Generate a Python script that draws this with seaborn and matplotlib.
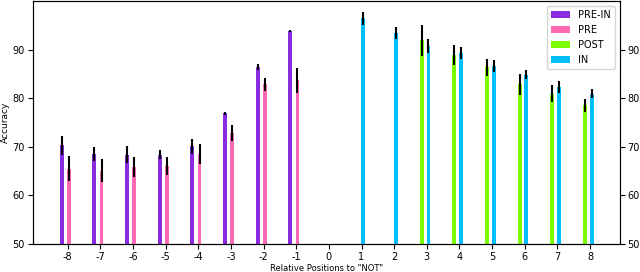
import numpy as np
import pandas as pd
import matplotlib
matplotlib.use("Agg")
import matplotlib.pyplot as plt
import seaborn as sns
from matplotlib.patches import Patch

neg_pos = [-8, -7, -6, -5, -4, -3, -2, -1]
pos_pos = [1, 2, 3, 4, 5, 6, 7, 8]
post_pos = [3, 4, 5, 6, 7, 8]

pre_in = [70.3, 68.6, 68.4, 68.4, 70.1, 76.9, 86.4, 93.9]
pre_in_err = [1.9, 1.4, 1.8, 0.9, 1.6, 0.4, 0.6, 0.3]
pre = [65.5, 65.1, 65.9, 66.1, 68.6, 72.9, 82.9, 83.7]
pre_err = [2.6, 2.4, 2.0, 1.8, 2.1, 1.7, 1.4, 2.6]
post = [92.0, 88.9, 86.4, 82.9, 81.0, 78.6]
post_err = [3.2, 2.1, 1.7, 2.1, 1.8, 1.3]
inn = [96.5, 93.5, 90.8, 89.3, 86.7, 84.9, 82.4, 81.0]
inn_err = [1.4, 1.3, 1.5, 1.2, 1.3, 1.0, 1.2, 1.0]

xticks = list(range(-8, 9))
colors = {"PRE-IN": "#8a2be2", "PRE": "#ff69b4", "POST": "#7cfc00", "IN": "#00bfff"}

series = [
    ("PRE-IN", neg_pos, pre_in, pre_in_err, -0.18),
    ("PRE", neg_pos, pre, pre_err, 0.04),
    ("POST", post_pos, post, post_err, -0.16),
    ("IN", pos_pos, inn, inn_err, 0.05),
]

fig = plt.figure(figsize=(6.4, 2.72), dpi=100)
ax = fig.add_axes([0.052, 0.103, 0.916, 0.892])

for name, xs, ys, es, off in series:
    df = pd.DataFrame({"x": np.array(xs) + off, "y": ys})
    sns.barplot(data=df, x="x", y="y", native_scale=True, color=colors[name],
                saturation=1, width=0.12, errorbar=None, ax=ax)
    ax.errorbar(df["x"], df["y"], yerr=es, fmt="none", ecolor="black",
                elinewidth=1.5, capsize=0)

ax.set_xlim(-9.05, 8.9)
ax.set_ylim(50, 100)
ax.set_xticks(xticks)
ax.set_xticklabels([str(t) for t in xticks])
ax.set_yticks([50, 60, 70, 80, 90])
ax.tick_params(labelsize=7, length=3.5, pad=2.5)
ax.set_xlabel('Relative Positions to "NOT"', fontsize=6, labelpad=1)
ax.set_ylabel("Accuracy", fontsize=6.5, labelpad=2)

ax2 = ax.twinx()
ax2.set_ylim(50, 100)
ax2.set_yticks([50, 60, 70, 80, 90])
ax2.tick_params(labelsize=7, length=3.5, pad=2)

handles = [Patch(facecolor=c, label=n) for n, c in colors.items()]
ax.legend(handles=handles, loc="upper right", fontsize=7)

fig.savefig("out.png", dpi=100)
